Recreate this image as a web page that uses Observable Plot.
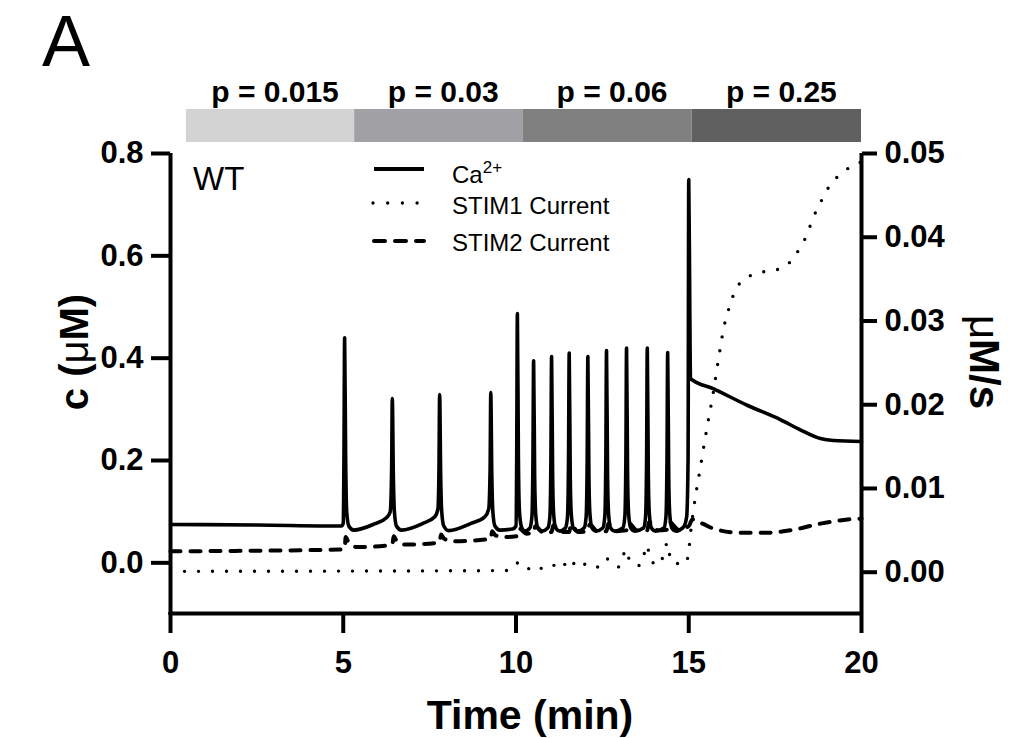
<!DOCTYPE html>
<html><head><meta charset="utf-8">
<script src="https://cdn.jsdelivr.net/npm/d3@7"></script>
<script src="https://cdn.jsdelivr.net/npm/@observablehq/plot@0.6"></script>
<style>
body{margin:0;background:#fff;}
#chart{position:relative;width:1015px;height:738px;}
</style>
</head><body><div id="chart"></div>
<script>
// ---- data (time in min) ----
const caTime = [0,2.5,4.95,5.0,5.02,5.04,5.07,5.1,5.16,5.3,5.9,6.25,6.36,6.4,6.42,6.45,6.48,6.54,6.68,7.3,7.65,7.74,7.77,7.79,7.82,7.85,7.91,8.05,8.7,9.1,9.21,9.25,9.27,9.3,9.33,9.39,9.53,9.9,10.0,10.02,10.04,10.07,10.1,10.16,10.25,10.4,10.46,10.49,10.51,10.54,10.57,10.63,10.75,10.92,10.98,11.01,11.03,11.06,11.09,11.15,11.27,11.43,11.49,11.52,11.54,11.57,11.6,11.66,11.78,11.97,12.03,12.06,12.08,12.11,12.14,12.2,12.32,12.51,12.57,12.6,12.62,12.65,12.68,12.74,12.86,13.09,13.15,13.18,13.2,13.23,13.26,13.32,13.44,13.69,13.75,13.78,13.8,13.83,13.86,13.92,14.04,14.28,14.34,14.37,14.39,14.42,14.45,14.51,14.63,14.85,14.94,14.98,15.0,15.03,15.05,15.72,16.69,17.65,18.23,18.81,19.19,20];
const caValue = [0.075,0.074,0.072,0.078,0.2,0.44,0.2,0.1,0.072,0.064,0.076,0.088,0.1,0.18,0.321,0.17,0.1,0.072,0.064,0.077,0.09,0.105,0.18,0.329,0.17,0.1,0.072,0.063,0.077,0.09,0.105,0.18,0.333,0.17,0.1,0.072,0.064,0.066,0.072,0.2,0.487,0.2,0.1,0.07,0.062,0.068,0.09,0.2,0.395,0.17,0.095,0.068,0.062,0.068,0.09,0.2,0.403,0.17,0.095,0.068,0.062,0.068,0.09,0.2,0.41,0.17,0.095,0.068,0.062,0.068,0.09,0.2,0.403,0.17,0.095,0.068,0.062,0.068,0.09,0.2,0.415,0.17,0.095,0.068,0.062,0.068,0.09,0.2,0.42,0.17,0.095,0.068,0.062,0.068,0.09,0.2,0.42,0.17,0.095,0.068,0.062,0.068,0.09,0.2,0.411,0.17,0.095,0.068,0.062,0.07,0.09,0.2,0.749,0.5,0.36,0.34,0.308,0.28,0.26,0.243,0.239,0.237];

const stim1Time = [0,9.8,10.04,10.3,10.51,10.8,11.03,11.3,11.54,11.8,12.08,12.4,12.62,12.95,13.2,13.3,13.6,13.8,13.88,14.15,14.39,14.43,14.55,14.9,15.0,15.05,15.15,15.34,15.53,15.72,15.87,16.01,16.21,16.35,16.59,16.98,17.37,17.75,18.04,18.23,18.43,18.57,18.72,18.91,19.1,19.39,19.68,20];
const stim1Value = [0.0001,0.0002,0.0011,0.0003,0.0008,0.0004,0.0009,0.0004,0.0016,0.0005,0.0011,0.0006,0.0016,0.0006,0.0027,0.0012,0.0008,0.0032,0.0014,0.0009,0.0035,0.0024,0.0011,0.001,0.0025,0.0046,0.0078,0.0126,0.0173,0.0217,0.0257,0.0291,0.0321,0.0337,0.0349,0.0357,0.036,0.0364,0.0376,0.0388,0.0404,0.042,0.0434,0.0449,0.0463,0.0475,0.0484,0.049];

const stim2Time = [0,4.9,5.04,5.07,5.15,5.4,6.3,6.42,6.46,6.55,6.8,7.7,7.79,7.83,7.92,8.2,9.1,9.27,9.31,9.4,9.7,10.04,10.1,10.3,10.51,10.56,10.8,11.03,11.08,11.3,11.54,11.59,11.8,12.08,12.13,12.35,12.62,12.67,12.9,13.2,13.25,13.5,13.8,13.85,14.1,14.39,14.44,14.7,15.0,15.1,15.4,15.72,16.5,17.16,17.94,18.81,19.6,20];
const stim2Value = [0.0025,0.0027,0.0028,0.0042,0.0036,0.003,0.0032,0.0033,0.0043,0.0037,0.0033,0.0035,0.0036,0.0045,0.004,0.0037,0.0039,0.004,0.0049,0.0044,0.0042,0.0043,0.0052,0.0046,0.0047,0.0055,0.0047,0.0048,0.0056,0.0048,0.0048,0.0057,0.0048,0.0049,0.0057,0.0049,0.0049,0.0058,0.0049,0.005,0.0059,0.005,0.005,0.006,0.005,0.0051,0.006,0.0051,0.0055,0.0063,0.0058,0.0052,0.0047,0.0047,0.005,0.0058,0.0063,0.0064];

const xTicks = [0, 5, 10, 15, 20];
const leftTicks = [0, 0.2, 0.4, 0.6, 0.8];
const rightTicks = [0, 0.01, 0.02, 0.03, 0.04, 0.05];
const pLabels = ["p = 0.015", "p = 0.03", "p = 0.06", "p = 0.25"];
const pBounds = [0.46, 5.33, 10.2, 15.1, 20];
const pColors = ["#d3d3d3", "#a1a0a5", "#808080", "#606060"];
const leftDomain = [-0.099, 0.8];
const rightDomain = [-0.00493, 0.05];
const legendNames = ["Ca", "STIM1 Current", "STIM2 Current"];

// ---- build ----
const toLeft = d3.scaleLinear().domain(rightDomain).range(leftDomain);
const ca = caTime.map((t, i) => ({t, v: caValue[i]}));
const s1 = stim1Time.map((t, i) => ({t, v: toLeft(stim1Value[i])}));
const s2 = stim2Time.map((t, i) => ({t, v: toLeft(stim2Value[i])}));
const FONT = "'Liberation Sans', Arial, Helvetica, sans-serif";
const AX = 4;

const plot = Plot.plot({
  width: 1015, height: 738,
  marginLeft: 170, marginRight: 154, marginTop: 153, marginBottom: 125,
  style: {fontFamily: FONT, background: "#fff", color: "#000", overflow: "visible"},
  x: {domain: [0, 20]},
  y: {domain: leftDomain},
  marks: [
    Plot.line(s1, {x: "t", y: "v", stroke: "#000", strokeWidth: 3.4, strokeDasharray: "0,14", strokeLinecap: "round", curve: "monotone-x"}),
    Plot.line(s2, {x: "t", y: "v", stroke: "#000", strokeWidth: 4, strokeDasharray: "10,10", strokeLinecap: "round", curve: "monotone-x"}),
    Plot.line(ca, {x: "t", y: "v", stroke: "#000", strokeWidth: 3.6, curve: "monotone-x"}),
    Plot.axisY(leftTicks, {anchor: "left", tickSize: 19, tickPadding: 8, strokeWidth: AX, fontSize: 31, fontWeight: "bold", tickFormat: d => d.toFixed(1), label: null}),
    Plot.axisY(rightTicks.map(d => toLeft(d)), {anchor: "right", tickSize: 15, tickPadding: 8, strokeWidth: AX, fontSize: 31, fontWeight: "bold",
      tickFormat: d => { const r = toLeft.invert(d); return (Math.abs(r) < 1e-9 ? 0 : r).toFixed(2); }, label: null}),
    Plot.axisX(xTicks, {anchor: "bottom", tickSize: 20, tickPadding: 17, strokeWidth: AX, fontSize: 31, fontWeight: "bold", tickFormat: d => String(d), label: null}),
    Plot.ruleX([0, 20], {y1: leftDomain[0], y2: leftDomain[1], stroke: "#000", strokeWidth: AX}),
    Plot.ruleY([leftDomain[0]], {x1: 0, x2: 20, stroke: "#000", strokeWidth: AX, strokeLinecap: "round"})
  ]
});
document.getElementById("chart").appendChild(plot);

// ---- decorations ----
const svg = d3.select(plot);
const xs = plot.scale("x");
const deco = svg.append("g").attr("font-family", FONT).attr("fill", "#000").attr("text-anchor", "start");

// stimulation bars
for (let i = 0; i < pLabels.length; i++) {
  const a = xs.apply(pBounds[i]), b = xs.apply(pBounds[i + 1]);
  deco.append("rect").attr("x", a).attr("y", 109).attr("width", b - a).attr("height", 33).attr("fill", pColors[i]);
  deco.append("text").attr("x", (a + b) / 2 + 5).attr("y", 102).attr("text-anchor", "middle")
    .attr("font-size", 30).attr("font-weight", "bold").text(pLabels[i]);
}

// panel letter and genotype
deco.append("text").attr("x", 42).attr("y", 66).attr("font-size", 72).text("A");
deco.append("text").attr("x", 193).attr("y", 190).attr("font-size", 33).text("WT");

// axis titles
deco.append("text").attr("x", 530).attr("y", 729).attr("text-anchor", "middle")
  .attr("font-size", 41).attr("font-weight", "bold").text("Time (min)");
const yl = deco.append("text").attr("transform", "translate(88,352) rotate(-90)").attr("text-anchor", "middle")
  .attr("font-size", 40).attr("font-weight", "bold");
yl.append("tspan").text("c (");
yl.append("tspan").attr("font-weight", "normal").text("\u03BC");
yl.append("tspan").text("M)");
const yr = deco.append("text").attr("transform", "translate(970,362) rotate(90)").attr("text-anchor", "middle")
  .attr("font-size", 42).attr("font-weight", "bold");
yr.append("tspan").attr("font-weight", "normal").text("\u03BC");
yr.append("tspan").text("M/s");

// legend
const lg = deco.append("g");
lg.append("line").attr("x1", 374).attr("x2", 424).attr("y1", 169).attr("y2", 169).attr("stroke", "#000").attr("stroke-width", 4);
lg.append("line").attr("x1", 373).attr("x2", 420).attr("y1", 203).attr("y2", 203).attr("stroke", "#000").attr("stroke-width", 3.4)
  .attr("stroke-dasharray", "0,14.7").attr("stroke-linecap", "round");
lg.append("line").attr("x1", 374).attr("x2", 424).attr("y1", 241).attr("y2", 241).attr("stroke", "#000").attr("stroke-width", 4)
  .attr("stroke-dasharray", "11,10").attr("stroke-linecap", "round");
const t1 = lg.append("text").attr("x", 452).attr("y", 183).attr("font-size", 24);
t1.append("tspan").text(legendNames[0]);
t1.append("tspan").attr("font-size", 17).attr("dy", -10).text("2+");
lg.append("text").attr("x", 452).attr("y", 214).attr("font-size", 24).text(legendNames[1]);
lg.append("text").attr("x", 452).attr("y", 251).attr("font-size", 24).text(legendNames[2]);
</script>
</body></html>
